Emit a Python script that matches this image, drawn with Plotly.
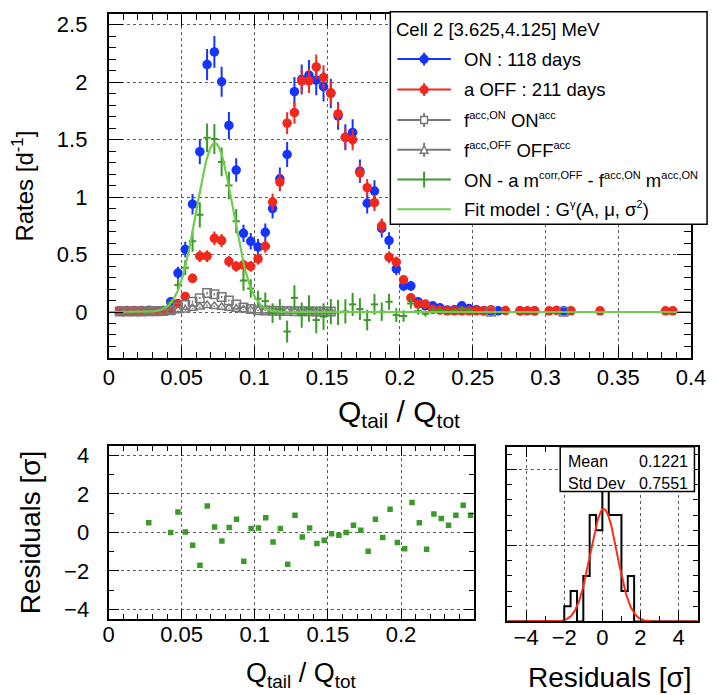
import numpy as np
import plotly.graph_objects as go

W, H = 716, 695
BIN_W = 0.005
FONT = "Liberation Sans, Arial, Helvetica, sans-serif"

# ---------------- data (bin index k -> centre (k+0.5)*BIN_W) ----------------
on_bins = list(range(1, 54)) + [56, 58, 62]
on_vals = [0.010, 0.012, 0.010, 0.012, 0.015, 0.010, 0.012, 0.089, 0.339, 0.544,
           0.938, 1.395, 2.152, 2.262, 2.003, 1.623, 1.235, 0.684, 0.615, 0.566,
           0.693, 0.900, 1.159, 1.370, 1.917, 2.023, 2.060, 2.017, 1.960, 1.902,
           1.706, 1.520, 1.562, 1.225, 0.946, 1.052, 0.727, 0.621, 0.376, 0.227,
           0.227, 0.089, 0.054, 0.054, 0.037, 0.017, 0.020, 0.054, 0.030, 0.020,
           0.010, 0.010, 0.010, 0.010, 0.010, 0.010]
on_errs = [0.010] * 7 + [0.027, 0.054, 0.068, 0.089, 0.109, 0.135, 0.138, 0.130, 0.117, 0.102,
           0.076, 0.072, 0.069, 0.077, 0.087, 0.099, 0.108, 0.127, 0.131, 0.132,
           0.131, 0.129, 0.127, 0.120, 0.113, 0.115, 0.102, 0.090, 0.094, 0.078,
           0.073, 0.056, 0.044, 0.044, 0.027, 0.021, 0.021, 0.018, 0.012, 0.013,
           0.021, 0.016, 0.013, 0.009, 0.009, 0.009, 0.009, 0.009, 0.009]

off_bins = list(range(1, 53)) + [54, 56, 57, 58, 60, 61, 63, 67, 76, 77]
off_vals = [0.011, 0.010, 0.012, 0.010, 0.010, 0.010, 0.012, 0.020, 0.074, 0.135,
            0.293, 0.486, 0.486, 0.641, 0.621, 0.440, 0.397, 0.410, 0.397, 0.462,
            0.572, 0.957, 1.130, 1.643, 1.735, 2.011, 2.011, 2.132, 2.040, 1.907,
            1.723, 1.519, 1.499, 1.211, 1.081, 0.951, 0.750, 0.477, 0.434, 0.280,
            0.123, 0.069, 0.069, 0.023, 0.017, 0.010, 0.010, 0.010, 0.010, 0.010,
            0.010, 0.020, 0.012, 0.010, 0.010, 0.010, 0.010, 0.015, 0.010, 0.010,
            0.010, 0.010]
off_errs = [0.0075] * 7 + [0.0105, 0.020, 0.027, 0.040, 0.052, 0.052, 0.059, 0.058, 0.049, 0.047,
            0.047, 0.047, 0.050, 0.056, 0.073, 0.079, 0.095, 0.098, 0.105, 0.105,
            0.108, 0.106, 0.102, 0.097, 0.091, 0.091, 0.082, 0.077, 0.072, 0.064,
            0.051, 0.049, 0.039, 0.026, 0.019, 0.019, 0.011, 0.010] + [0.0075] * 6 + [0.0105] + [0.008] * 10

acc_on_bins = list(range(1, 31)) + [52, 62]
acc_on_vals = [0.004, 0.004, 0.005, 0.005, 0.006, 0.006, 0.008, 0.015, 0.040, 0.060,
               0.090, 0.120, 0.165, 0.155, 0.130, 0.100, 0.065, 0.040, 0.025, 0.015,
               0.012, 0.010, 0.008, 0.008, 0.007, 0.006, 0.006, 0.005, 0.005, 0.004,
               0.003, 0.003]
acc_on_errs = [0.002] * 8 + [0.006, 0.007, 0.009, 0.010, 0.012, 0.011, 0.010, 0.009, 0.007,
               0.006, 0.005, 0.004] + [0.003] * 10 + [0.002, 0.002]

acc_off_bins = list(range(1, 31))
acc_off_vals = [0.003, 0.003, 0.003, 0.004, 0.004, 0.004, 0.005, 0.008, 0.012, 0.018,
                0.033, 0.044, 0.058, 0.050, 0.042, 0.033, 0.026, 0.020, 0.016, 0.012,
                0.010, 0.008, 0.006, 0.005, 0.005, 0.004, 0.004, 0.003, 0.003, 0.003]
acc_off_errs = [0.002] * 8 + [0.004, 0.004, 0.005, 0.006, 0.007, 0.006, 0.006, 0.005, 0.005,
                0.004, 0.004, 0.004] + [0.003] * 10

sig_bins = [5] + list(range(8, 50))
sig_vals = [0.010, 0.080, 0.235, 0.385, 0.615, 0.845, 1.515, 1.505, 1.305, 1.100,
            0.790, 0.275, 0.204, 0.115, 0.095, -0.010, 0.022, -0.170, 0.123, -0.027,
            0.031, -0.070, -0.040, 0.003, -0.003, 0.005, 0.066, 0.025, -0.070, 0.066,
            0.003, 0.089, -0.027, -0.035, 0.074, 0.008, -0.015, 0.020, 0.015, 0.005,
            0.013, 0.028, 0.016]
sig_errs = [0.020, 0.030, 0.050, 0.065, 0.090, 0.110, 0.125, 0.130, 0.125, 0.120,
            0.105, 0.090, 0.080, 0.070, 0.075, 0.085, 0.090, 0.095, 0.110, 0.110,
            0.115, 0.115, 0.115, 0.110, 0.110, 0.105, 0.100, 0.095, 0.090, 0.090,
            0.080, 0.070, 0.060, 0.050, 0.045, 0.030, 0.025, 0.022, 0.020, 0.015,
            0.015, 0.020, 0.018]

# fit model parameters
FIT_A, FIT_MU, FIT_SIGMA = 1.47, 0.0728, 0.0125

resid_vals = [0.50, 0.00, 1.06, 0.02, -0.66, -1.70, 1.37, 0.28, -0.45, 0.26,
              0.68, -1.50, 0.21, 0.23, 0.77, -0.50, 0.21, -1.65, 0.89, -0.23,
              0.23, -0.57, -0.40, -0.07, -0.14, 0.00, 0.38, 0.12, -0.97, 0.68,
              -0.26, 1.20, -0.52, -0.85, 1.55, 0.50, -0.87, 0.96, 0.73, 0.38,
              0.89, 1.41, 0.90]

# residual histogram: 30 bins on [-5, 5]
hist_lo, hist_hi, hist_nbins = -5.0, 5.0, 30
hist_counts = [0, 0, 0, 0, 0, 0, 0, 0, 0, 1, 2, 0, 3, 7, 6, 11, 7, 7, 2, 3,
               0, 0, 0, 0, 0, 0, 0, 0, 0, 0]
HFIT_A, HFIT_MU, HFIT_SIGMA = 7.4, 0.07, 0.70
stats_text = [("Mean", "0.1221"), ("Std Dev", "0.7551")]

# ---------------- helpers ----------------
def centres(bins):
    return [(b + 0.5) * BIN_W for b in bins]

def px(v):
    return v / W

def py(v):
    return 1 - v / H

BLUE = "#1434ff"
RED = "#f0281e"
GRAY = "#787878"
DGREEN = "#3c9a2a"
LGREEN = "#70cc4c"

fig = go.Figure()

# main panel
fig.add_trace(go.Scatter(x=centres(on_bins), y=on_vals, mode="markers",
                         marker=dict(color=BLUE, size=9.5),
                         error_y=dict(type="data", array=on_errs, color=BLUE, thickness=2, width=0),
                         xaxis="x", yaxis="y"))
fig.add_trace(go.Scatter(x=centres(off_bins), y=off_vals, mode="markers",
                         marker=dict(color=RED, size=9.5),
                         error_y=dict(type="data", array=off_errs, color=RED, thickness=2, width=0),
                         xaxis="x", yaxis="y"))
fig.add_trace(go.Scatter(x=centres(acc_on_bins), y=acc_on_vals, mode="markers",
                         marker=dict(color=GRAY, size=8.5, symbol="square-open", line=dict(width=1.5, color=GRAY)),
                         error_y=dict(type="data", array=acc_on_errs, color=GRAY, thickness=1.5, width=0),
                         xaxis="x", yaxis="y"))
fig.add_trace(go.Scatter(x=centres(acc_off_bins), y=acc_off_vals, mode="markers",
                         marker=dict(color=GRAY, size=8.5, symbol="triangle-up-open", line=dict(width=1.5, color=GRAY)),
                         error_y=dict(type="data", array=acc_off_errs, color=GRAY, thickness=1.5, width=0),
                         xaxis="x", yaxis="y"))
fig.add_trace(go.Scatter(x=centres(sig_bins), y=sig_vals, mode="markers",
                         marker=dict(color=DGREEN, size=2),
                         error_y=dict(type="data", array=sig_errs, color=DGREEN, thickness=2, width=0),
                         error_x=dict(type="constant", value=BIN_W / 2, color=DGREEN, thickness=2, width=0),
                         xaxis="x", yaxis="y"))
xf = np.linspace(0, 0.4, 801)
yf = FIT_A * np.exp(-0.5 * ((xf - FIT_MU) / FIT_SIGMA) ** 2)
fig.add_trace(go.Scatter(x=xf, y=yf, mode="lines", line=dict(color=LGREEN, width=2.2),
                         xaxis="x", yaxis="y"))

# residuals
fig.add_trace(go.Scatter(x=centres(sig_bins), y=resid_vals, mode="markers",
                         marker=dict(color=DGREEN, size=5.5, symbol="square"),
                         xaxis="x2", yaxis="y2"))

# histogram (outline)
edges = np.linspace(hist_lo, hist_hi, hist_nbins + 1)
hx = [hist_lo] + list(edges)
hy = [0] + list(hist_counts) + [0]
fig.add_trace(go.Scatter(x=hx, y=hy, mode="lines", line=dict(color="black", width=2, shape="hv"),
                         xaxis="x3", yaxis="y3"))
xg = np.linspace(hist_lo, hist_hi, 401)
yg = HFIT_A * np.exp(-0.5 * ((xg - HFIT_MU) / HFIT_SIGMA) ** 2)
fig.add_trace(go.Scatter(x=xg, y=yg, mode="lines", line=dict(color="#ff2a1a", width=2),
                         xaxis="x3", yaxis="y3"))


def axis(rng, dtick, mdtick, domain, anchor, ticklen=12, mticklen=6, labels=True,
         standoff=8, fsize=22, title=None, tsize=24, tstandoff=16):
    d = dict(range=rng, domain=domain, anchor=anchor, dtick=dtick, tick0=0,
             showline=True, linecolor="black", linewidth=2, mirror="allticks",
             ticks="inside", ticklen=ticklen, tickwidth=1.3, tickcolor="black",
             showgrid=True, gridcolor="rgba(40,40,40,0.75)", griddash="dot", gridwidth=1,
             zeroline=False, showticklabels=labels, ticklabelstandoff=standoff,
             tickfont=dict(family=FONT, size=fsize, color="black"),
             minor=dict(ticks="inside", ticklen=mticklen, dtick=mdtick, tick0=0,
                        tickcolor="black", tickwidth=1.2, showgrid=False))
    if title:
        d["title"] = dict(text=title, font=dict(family=FONT, size=tsize, color="black"),
                          standoff=tstandoff)
    return d

main_x = [px(97.7), px(697.5)]
main_y = [py(350), py(3.3)]
res_x = [px(97.4), px(473.6)]
res_y = [py(613.4), py(438.6)]
his_x = [px(508), px(704.3)]
his_y = [py(615.8), py(439.5)]

layout = dict(
    width=W, height=H, margin=dict(l=0, r=0, t=0, b=0),
    paper_bgcolor="white", plot_bgcolor="white", showlegend=False,
    font=dict(family=FONT, color="black"),
    xaxis=axis([0, 0.4], 0.05, 0.01, main_x, "y", standoff=-1),
    yaxis=axis([-0.40, 2.59], 0.5, 0.1, main_y, "x", ticklen=14, mticklen=7, standoff=15,
               title="Rates [d<sup>-1</sup>]", tsize=24, tstandoff=18),
    xaxis2=axis([0, 0.2497], 0.05, 0.01, res_x, "y2", ticklen=10, mticklen=5, standoff=-6),
    yaxis2=axis([-4.5, 4.5], 2, 1, res_y, "x2", ticklen=10, mticklen=5, standoff=13,
                title="Residuals [σ]", tsize=28, tstandoff=15),
    xaxis3=axis([-5, 5], 2, 1, his_x, "y3", ticklen=10, mticklen=5, standoff=-5),
    yaxis3=axis([0, 11.5], 5, 1, his_y, "x3", ticklen=10, mticklen=5, labels=False),
)
fig.update_layout(**layout)

ann = []
shapes = []

def text(x, y, s, size, xanchor="center", yanchor="middle", angle=0):
    ann.append(dict(x=px(x), y=py(y), xref="paper", yref="paper", text=s, showarrow=False,
                    xanchor=xanchor, yanchor=yanchor, textangle=angle,
                    font=dict(family=FONT, size=size, color="black")))

# x-axis titles
text(397, 406, "Q<sub>tail</sub> / Q<sub>tot</sub>", 30)
text(296, 670, "Q<sub>tail</sub> / Q<sub>tot</sub>", 27)
text(614, 672, "Residuals [σ]", 28)

# legend box
LX0, LY0, LX1, LY1 = 387.7, 0.8, 714, 215
shapes.append(dict(type="rect", xref="paper", yref="paper", x0=px(LX0), y0=py(LY1), x1=px(LX1), y1=py(LY0),
                   line=dict(color="black", width=1.5), fillcolor="white", layer="above"))
text(391.5, 18.5, "Cell 2 [3.625,4.125] MeV", 18.5, xanchor="left")

def lline(y, color, width=2):
    shapes.append(dict(type="line", xref="paper", yref="paper", x0=px(395), x1=px(450), y0=py(y), y1=py(y),
                       line=dict(color=color, width=width), layer="above"))

def vbar(y, color, half):
    shapes.append(dict(type="line", xref="paper", yref="paper", x0=px(422.5), x1=px(422.5),
                       y0=py(y - half), y1=py(y + half), line=dict(color=color, width=2), layer="above"))

def sup(s):
    return f'<sup><span style="font-size:11px">{s}</span></sup>'

rows = [48.5, 79.3, 110, 140, 170, 200]
labels = ["ON : 118 days", "a OFF : 211 days",
          f"f{sup('acc,ON')} ON{sup('acc')}", f"f{sup('acc,OFF')} OFF{sup('acc')}",
          f"ON - a m{sup('corr,OFF')} - f{sup('acc,ON')} m{sup('acc,ON')}",
          f"Fit model : G{sup('γ')}(A, μ, σ{sup('2')})"]
# ON
lline(rows[0], BLUE); vbar(rows[0], BLUE, 6.5)
shapes.append(dict(type="circle", xref="paper", yref="paper", x0=px(418), x1=px(427), y0=py(rows[0] + 4.5),
                   y1=py(rows[0] - 4.5), fillcolor=BLUE, line=dict(color=BLUE, width=0.5), layer="above"))
# OFF
lline(rows[1], RED); vbar(rows[1], RED, 6.5)
shapes.append(dict(type="circle", xref="paper", yref="paper", x0=px(418), x1=px(427), y0=py(rows[1] + 4.5),
                   y1=py(rows[1] - 4.5), fillcolor=RED, line=dict(color=RED, width=0.5), layer="above"))
# acc ON
lline(rows[2], GRAY); vbar(rows[2], GRAY, 7)
shapes.append(dict(type="rect", xref="paper", yref="paper", x0=px(419), x1=px(426), y0=py(rows[2] + 3.5),
                   y1=py(rows[2] - 3.5), fillcolor="white", line=dict(color=GRAY, width=1.5), layer="above"))
# acc OFF
lline(rows[3], GRAY); vbar(rows[3], GRAY, 7)
tx = [px(418.5), px(426.5), px(422.5)]
ty = [py(rows[3] + 3.5), py(rows[3] + 3.5), py(rows[3] - 4)]
shapes.append(dict(type="path", xref="paper", yref="paper",
                   path=f"M {tx[0]},{ty[0]} L {tx[1]},{ty[1]} L {tx[2]},{ty[2]} Z",
                   fillcolor="white", line=dict(color=GRAY, width=1.5), layer="above"))
# signal
lline(rows[4], DGREEN); vbar(rows[4], DGREEN, 8)
# fit
lline(rows[5], LGREEN)
for r, s in zip(rows, labels):
    text(461.5, r, s, 18.5, xanchor="left")

# stats box
shapes.append(dict(type="rect", xref="paper", yref="paper", x0=px(562.7), x1=px(701), y0=py(484.8), y1=py(439.5),
                   fillcolor="white", line=dict(color="black", width=1.5), layer="above"))
for i, (k, v) in enumerate(stats_text):
    yy = 454 + i * 22.3
    text(569, yy, k, 16, xanchor="left")
    text(696, yy, v, 16, xanchor="right")

fig.update_layout(annotations=ann, shapes=shapes)
fig.write_html("out.html")
